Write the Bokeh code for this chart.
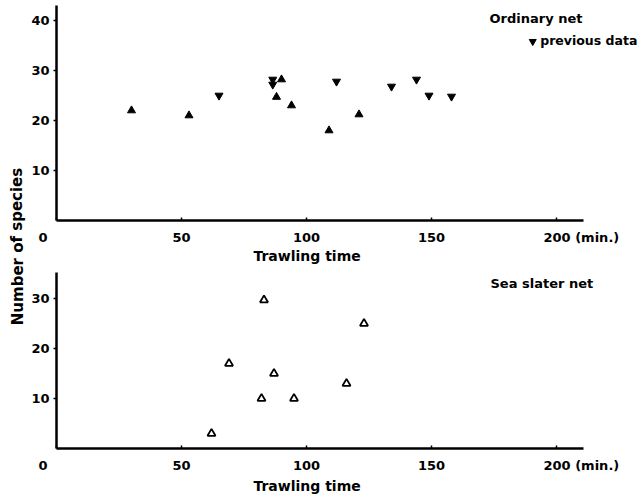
from bokeh.plotting import figure
from bokeh.layouts import row, column
from bokeh.models import Label, FixedTicker
from bokeh.embed import file_html
from bokeh.resources import INLINE

# ---- data ----
ordinary_x = [30, 53, 88, 90, 94, 109, 121]
ordinary_y = [22, 21, 24.7, 28.2, 23, 18, 21.2]
previous_x = [65, 86.5, 86.5, 112, 134, 144, 149, 158]
previous_y = [25, 28.2, 27.2, 27.8, 26.8, 28.2, 25, 24.8]
sea_x = [62, 69, 82, 83, 87, 95, 116, 123]
sea_y = [3, 17, 10, 29.7, 15, 10, 13, 25]
x_ticks = [0, 50, 100, 150, 200]
x_tick_labels = {0: "0" + "\u00a0" * 6, 200: "\u00a0" * 11 + "200 (min.)"}
top_y_ticks = [10, 20, 30, 40]
bottom_y_ticks = [10, 20, 30]
X_AXIS_END = 210.8
X_TITLE = "Trawling time" + "\u00a0" * 17

FONT = "DejaVu Sans"


def style(p, yticks, y_axis_end, label_standoff):
    p.grid.visible = False
    p.outline_line_color = None
    p.xaxis.ticker = FixedTicker(ticks=x_ticks)
    p.xaxis.major_label_overrides = x_tick_labels
    p.yaxis.ticker = FixedTicker(ticks=yticks)
    p.xaxis.bounds = (0, X_AXIS_END)
    p.yaxis.bounds = (0, y_axis_end)
    for ax in (p.xaxis[0], p.yaxis[0]):
        ax.axis_line_width = 2.5
        ax.axis_line_color = "black"
        ax.major_tick_line_color = "black"
        ax.major_tick_line_width = 1.5
        ax.minor_tick_line_color = None
        ax.major_label_text_font = FONT
        ax.major_label_text_font_style = "bold"
        ax.major_label_text_font_size = "13px"
        ax.major_label_text_color = "black"
    p.xaxis.major_tick_in = 3
    p.xaxis.major_tick_out = 0
    p.xaxis.major_label_standoff = 9
    p.yaxis.major_tick_in = 0
    p.yaxis.major_tick_out = 3
    p.yaxis.major_label_standoff = 4
    p.xaxis.axis_label = X_TITLE
    p.xaxis.axis_label_text_font = FONT
    p.xaxis.axis_label_text_font_style = "bold"
    p.xaxis.axis_label_text_font_size = "14px"
    p.xaxis.axis_label_text_color = "black"
    p.xaxis.axis_label_standoff = label_standoff


def text(p, x, y, s, size="13px"):
    p.add_layout(Label(x=x, y=y, text=s, text_align="left", text_baseline="middle",
                       text_font=FONT, text_font_style="bold", text_font_size=size,
                       text_color="black"))


# ---- y-axis title column ----
lab = figure(width=26, height=497, x_range=(0, 26), y_range=(0, 497),
             x_axis_location=None, y_axis_location=None, min_border=0,
             toolbar_location=None, output_backend="svg")
lab.grid.visible = False
lab.outline_line_color = None
lab.add_layout(Label(x=17, y=251, text="Number of species", angle=1.5708,
                     text_align="center", text_baseline="middle", text_color="black",
                     text_font=FONT, text_font_style="bold", text_font_size="15px"))

# ---- top panel ----
top = figure(width=614, height=268, x_range=(0, 233.6), y_range=(0, 44),
             min_border_left=30, min_border_right=0, min_border_top=0, min_border_bottom=48,
             toolbar_location=None, output_backend="svg")
style(top, top_y_ticks, 43, 0)
top.scatter(ordinary_x, ordinary_y, marker="triangle", size=8, color="black")
top.scatter(previous_x, previous_y, marker="inverted_triangle", size=8, color="black")
top.scatter([190.5], [35.8], marker="inverted_triangle", size=7, color="black")
text(top, 173.2, 40.4, "Ordinary net")
text(top, 193.5, 36.0, "previous data", "12.5px")

# ---- bottom panel ----
bot = figure(width=614, height=229, x_range=(0, 233.6), y_range=(0, 36),
             min_border_left=30, min_border_right=0, min_border_top=0, min_border_bottom=49,
             toolbar_location=None, output_backend="svg")
style(bot, bottom_y_ticks, 35.2, 2)
bot.scatter(sea_x, sea_y, marker="triangle", size=8, line_color="black", fill_color="white",
            line_width=1.8)
text(bot, 173.6, 33.0, "Sea slater net")

layout = row(lab, column(top, bot))
open("out.html", "w").write(file_html(layout, INLINE))
